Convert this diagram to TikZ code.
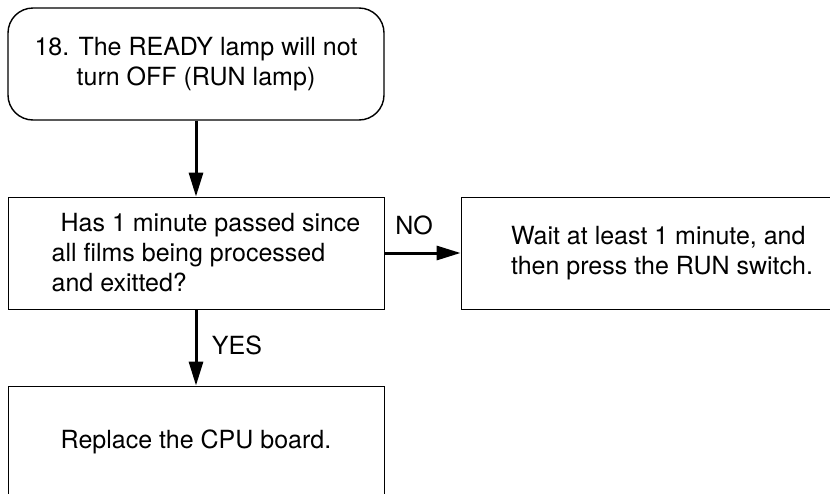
\documentclass[tikz,border=0pt]{standalone}
\usepackage{fontspec}
\setmainfont{TeX Gyre Heros}
\usetikzlibrary{arrows.meta}

\begin{document}
\begin{tikzpicture}[
    x=1pt, y=-1pt,
    every node/.style={font=\fontsize{25}{30}\selectfont},
    box/.style={draw=black, line width=0.8pt, minimum width=376pt,
        minimum height=112pt, inner sep=0pt, align=center},
    flow/.style={-{Triangle[length=24pt, width=14pt]}, line width=3pt}
]

% ===== Page frame =====
\useasboundingbox (0, 0) rectangle (830, 493);
\clip (0, 0) rectangle (830, 493);

% --- Start ---
\node[box, line width=1.4pt, rounded corners=25pt] (start) at (196, 64)
    {18. The READY lamp will not\\turn OFF (RUN lamp)};

% --- Question ---
\node[box, align=left] (check) at (196, 253)
    {\hspace*{29pt}Has 1 minute passed since\\
     \hspace*{20pt}all films being processed\\
     \hspace*{20pt}and exitted?};

% --- NO branch ---
\node[box, minimum width=402pt, align=left] (wait) at (662, 253)
    {Wait at least 1 minute, and\\then press the RUN switch.};

% --- YES branch ---
\node[box] (fix) at (196, 442) {Replace the CPU board.};

% --- Connectors ---
\draw[flow] (start.south) -- (check.north);
\draw[flow] (check.east) -- (wait.west);
\draw[flow] (check.south) -- (fix.north);

% --- Branch labels ---
\node (no) at (414, 225) {NO};
\node (yes) at (237, 345) {YES};

\end{tikzpicture}
\end{document}
